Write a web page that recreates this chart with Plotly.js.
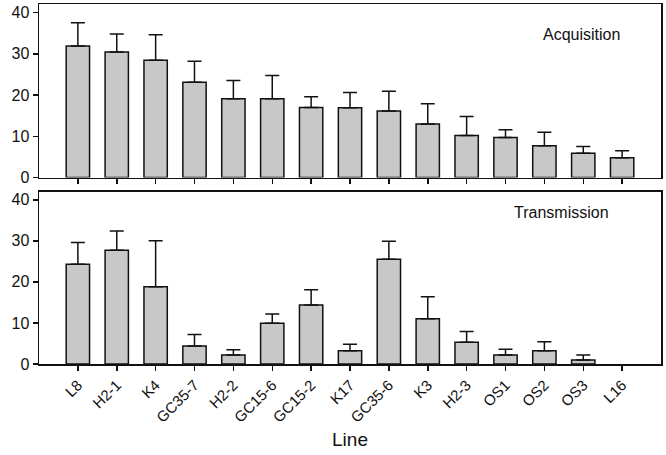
<!DOCTYPE html>
<html><head><meta charset="utf-8">
<script src="https://cdn.plot.ly/plotly-3.0.1.min.js"></script>
<style>body{margin:0;background:#fff}#c{width:666px;height:455px}</style>
</head><body><div id="c"></div>
<script>
const lines = ["L8","H2-1","K4","GC35-7","H2-2","GC15-6","GC15-2","K17","GC35-6","K3","H2-3","OS1","OS2","OS3","L16"];
const acquisition = [31.9,30.4,28.4,23.1,19.1,19.1,17.0,16.9,16.1,13.0,10.2,9.7,7.7,5.9,4.8];
const acquisitionErr = [5.6,4.4,6.2,5.1,4.4,5.6,2.6,3.7,4.8,4.9,4.6,1.9,3.3,1.6,1.7];
const transmission = [24.3,27.7,18.8,4.4,2.2,9.9,14.4,3.2,25.5,11.0,5.3,2.2,3.2,1.0,0];
const transmissionErr = [5.3,4.7,11.2,2.8,1.3,2.3,3.7,1.6,4.4,5.4,2.6,1.4,2.2,1.2,NaN];

const font = {family:"Liberation Sans, Arial, sans-serif", color:"#111"};
function barTrace(y, err, xa, ya){
  return {type:"bar", x:lines, y:y, xaxis:xa, yaxis:ya, width:0.6,
    marker:{color:"#c8c8c8", line:{color:"#111", width:y.map(v => v > 0 ? 1.5 : 0)}},
    error_y:{type:"data", symmetric:false, array:err, arrayminus:err.map(e => isNaN(e) ? NaN : 0),
      color:"#111", thickness:1.5, width:7},
    showlegend:false, hoverinfo:"skip"};
}
const data = [
  barTrace(acquisition, acquisitionErr, "x", "y"),
  barTrace(transmission, transmissionErr, "x2", "y2")
];
const xcommon = {type:"category", range:[-1,15], showline:true, mirror:true, linecolor:"#111", linewidth:1.5,
  ticks:"outside", ticklen:5, tickwidth:1.5, tickcolor:"#111", showgrid:false, zeroline:false};
const ycommon = {range:[0,42.06], tickvals:[0,10,20,30,40], showline:true, mirror:true, linecolor:"#111", linewidth:1.5,
  ticks:"outside", ticklen:5, tickwidth:1.5, tickcolor:"#111", showgrid:false, zeroline:false,
  tickfont:Object.assign({size:16}, font)};
const layout = {
  width:666, height:455, paper_bgcolor:"#fff", plot_bgcolor:"#fff", font:font,
  margin:{l:39, r:5, t:4, b:91},
  bargap:0.4,
  xaxis:Object.assign({}, xcommon, {anchor:"y", showticklabels:false, domain:[0,1]}),
  yaxis:Object.assign({}, ycommon, {domain:[0.518,1], anchor:"x"}),
  xaxis2:Object.assign({}, xcommon, {anchor:"y2", domain:[0,1], tickangle:-45,
    tickfont:Object.assign({size:15}, font),
    title:{text:"Line", font:Object.assign({size:19}, font), standoff:8}}),
  yaxis2:Object.assign({}, ycommon, {domain:[0,0.479], anchor:"x2", range:[0,42.0]}),
  annotations:[
    {text:"Acquisition", xref:"paper", yref:"paper", x:0.872, y:(364.3-35)/360, xanchor:"center", yanchor:"middle", showarrow:false, font:Object.assign({size:16}, font)},
    {text:"Transmission", xref:"paper", yref:"paper", x:0.84, y:(364.3-213)/360, xanchor:"center", yanchor:"middle", showarrow:false, font:Object.assign({size:16}, font)}
  ]
};
Plotly.newPlot("c", data, layout, {displayModeBar:false, staticPlot:true});
</script></body></html>
